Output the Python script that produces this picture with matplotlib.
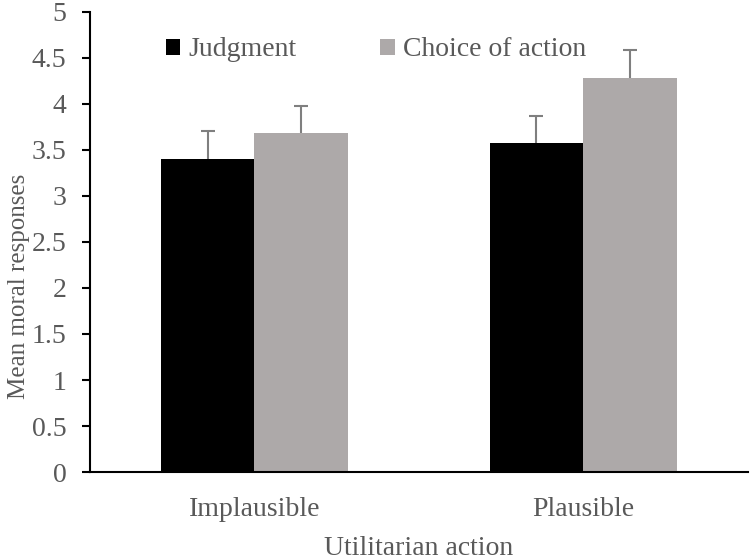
import matplotlib
matplotlib.use("Agg")
import matplotlib.pyplot as plt
import numpy as np

categories = ["Implausible", "Plausible"]
series_names = ["Judgment", "Choice of action"]
judgment = [3.40, 3.57]
judgment_err = [0.30, 0.30]
choice = [3.68, 4.28]
choice_err = [0.30, 0.31]
yticks = [0, 0.5, 1, 1.5, 2, 2.5, 3, 3.5, 4, 4.5, 5]
ytick_labels = ["0", "0.5", "1", "1.5", "2", "2.5", "3", "3.5", "4", "4.5", "5"]

plt.rcParams['font.family'] = ['Liberation Serif', 'DejaVu Serif']
text_color = '#595959'
fs = 20

fig = plt.figure(figsize=(7.5, 5.6), dpi=100)
ax = fig.add_axes([0.12, 0.157, 0.877, 0.822])

x = np.arange(len(categories))
w = 0.285
err_kw = dict(ecolor='#7f7f7f', elinewidth=1.5, capsize=5, capthick=1.5)
b1 = ax.bar(x - w/2, judgment, w, color='black', label=series_names[0],
            yerr=[np.zeros(len(judgment)), judgment_err], error_kw=err_kw)
b2 = ax.bar(x + w/2, choice, w, color='#ada9a9', label=series_names[1],
            yerr=[np.zeros(len(choice)), choice_err], error_kw=err_kw)
for b in (b1, b2):
    caps = b.errorbar.lines[1]
    if len(caps) > 1:
        caps[0].set_visible(False)

ax.set_xlim(-0.5, 1.5)
ax.set_ylim(0, 5)
ax.set_yticks(yticks)
ax.set_yticklabels(ytick_labels)
ax.set_xticks(x)
ax.set_xticklabels(categories)

for s in ['top', 'right']:
    ax.spines[s].set_visible(False)
ax.spines['left'].set_linewidth(1.5)
ax.spines['bottom'].set_linewidth(1.5)
ax.tick_params(axis='y', direction='out', length=6, width=1.5, labelsize=fs,
               labelcolor=text_color, pad=11)
ax.tick_params(axis='x', length=0, labelsize=fs, labelcolor=text_color, pad=18)

ax.set_ylabel("Mean moral responses", fontsize=18, color=text_color)
ax.yaxis.set_label_coords(-0.091, 0.404)
ax.set_xlabel("Utilitarian action", fontsize=fs, color=text_color, labelpad=10)

leg = ax.legend(loc='center', bbox_to_anchor=(0.435, 0.917), ncol=2, frameon=False,
                fontsize=fs, handlelength=0.52, handleheight=0.52, handletextpad=0.3,
                columnspacing=3.0, borderpad=0.2)
for t in leg.get_texts():
    t.set_color(text_color)

fig.savefig("out.png", dpi=100)
